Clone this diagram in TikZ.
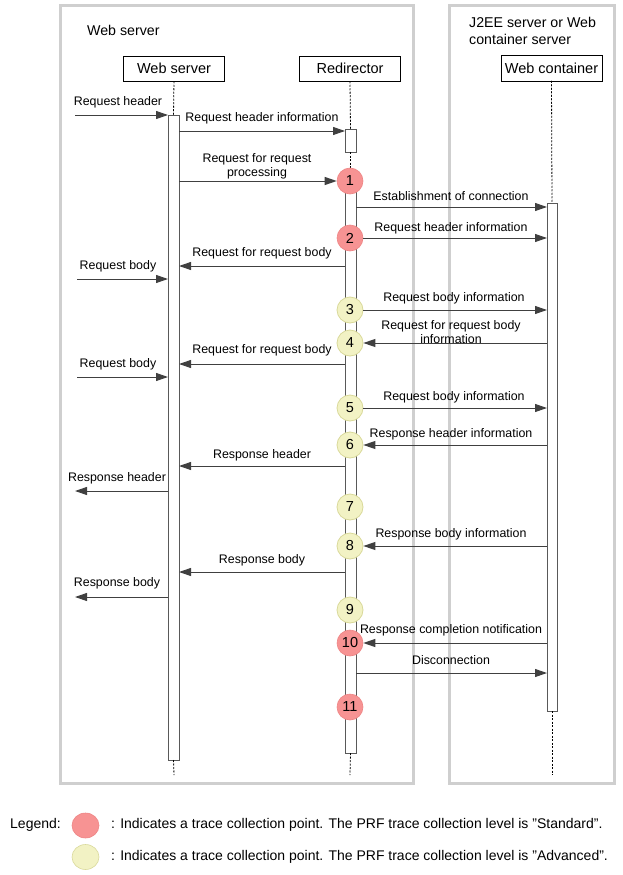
\documentclass[tikz,border=0pt]{standalone}
\usepackage{fontspec}
\setmainfont{Liberation Sans}
\usetikzlibrary{arrows.meta,shapes.geometric}
\definecolor{stdfill}{HTML}{F79393}
\definecolor{stdline}{HTML}{EE8585}
\definecolor{advfill}{HTML}{F2F2C4}
\definecolor{advline}{HTML}{D9D99A}
\definecolor{framegray}{HTML}{CFCFCF}
\begin{document}
\begin{tikzpicture}[x=1pt,y=-1pt,
  frame/.style={draw=framegray,line width=3pt},
  head/.style={draw,fill=white,minimum width=101pt,minimum height=25.5pt,inner sep=0pt,outer sep=0pt,font=\fontsize{14.5}{16}\selectfont},
  actbar/.style={draw=black!65,fill=white,line width=0.8pt,inner sep=0pt,outer sep=0pt,minimum width=11pt,anchor=north},
  life/.style={draw=black,line width=0.8pt,dash pattern=on 2pt off 1.5pt},
  msg/.style={draw=black!75,line width=1pt,-{Triangle[length=12pt,width=8pt]}},
  lbl/.style={font=\fontsize{12.4}{14}\selectfont,inner sep=0pt,align=center},
  stdpt/.style={circle,fill=stdfill,draw=stdline,line width=0.6pt,minimum size=26pt,inner sep=0pt,font=\fontsize{14.5}{16}\selectfont},
  advpt/.style={circle,fill=advfill,draw=advline,line width=0.8pt,minimum size=26pt,inner sep=0pt,font=\fontsize{14.5}{16}\selectfont},
  title/.style={font=\fontsize{14.2}{16.5}\selectfont,inner sep=0pt,align=left},
  legtxt/.style={font=\fontsize{14}{16}\selectfont,anchor=west,inner sep=0pt},
  legmark/.style={ellipse,minimum width=27pt,minimum height=25pt,inner sep=0pt,line width=0.6pt}
]
\useasboundingbox (0,0) rectangle (623,875);
% frames
\draw[frame] (60,6) rectangle (413,783);
\draw[frame] (449,6) rectangle (614,783);
\node[title,anchor=west] (t1) at (87,30.5) {Web server};
\node[title,anchor=north west] (t2) at (469,17.5) {J2EE server or Web\\container server};
% heads
\node[head] (ws) at (174,68.5) {Web server};
\node[head] (rd) at (350,68.5) {Redirector};
\node[head] (wc) at (551.5,68) {Web container};
% end coordinates of lifelines
\coordinate (wsend) at (174,775);
\coordinate (rdend) at (350,775);
\coordinate (wcend) at (552,775);
% activation bars
\node[actbar,minimum height=645pt] (wsbar) at (173.5,115) {};
\node[actbar,minimum height=23pt] (rdbar1) at (350.5,129) {};
\node[actbar,minimum height=581pt] (rdbar2) at (350.5,172) {};
\node[actbar,minimum height=508pt,minimum width=10pt] (wcbar) at (552,203) {};
% lifelines
\draw[life] (ws.south) -- (wsbar.north);
\draw[life] (wsbar.south) -- (wsend);
\draw[life] (rd.south) -- (rdbar1.north);
\draw[life] (rdbar1.south) -- (rdbar2.north);
\draw[life] (rdbar2.south) -- (rdend);
\draw[life] (wc.south) -- (wcbar.north);
\draw[life] (wcbar.south) -- (wcend);
% trace points
\node[stdpt] (c1) at (350,181) {1};
\node[stdpt] (c2) at (350,238) {2};
\node[advpt] (c3) at (350,310) {3};
\node[advpt] (c4) at (350,343) {4};
\node[advpt] (c5) at (350,408) {5};
\node[advpt] (c6) at (350,445) {6};
\node[advpt] (c7) at (350,507) {7};
\node[advpt] (c8) at (350,546) {8};
\node[advpt] (c9) at (350,610) {9};
\node[stdpt] (c10) at (350,643) {10};
\node[stdpt] (c11) at (350,707) {11};
% external coordinates
\coordinate (in1) at (75,115);
\coordinate (in2) at (77,279);
\coordinate (in3) at (77,377);
\coordinate (out1) at (75,491);
\coordinate (out2) at (75,597);
% messages
\draw[msg] (in1) -- (in1 -| wsbar.west);
\node[lbl] (l1) at (118,102.5) {Request header};
\draw[msg] (wsbar.east |- 0,131) -- (rdbar1.west |- 0,131);
\node[lbl] (l2) at (262,118.5) {Request header information};
\draw[msg] (wsbar.east |- c1) -- (c1.west);
\node[lbl] (l3) at (257,166) {Request for request\\processing};
\draw[msg] (rdbar2.east |- 0,207) -- (wcbar.west |- 0,207);
\node[lbl] (l4) at (451,196.5) {Establishment of connection};
\draw[msg] (c2.east) -- (c2 -| wcbar.west);
\node[lbl] (l5) at (451,228.5) {Request header information};
\draw[msg] (rdbar2.west |- 0,266) -- (wsbar.east |- 0,266);
\node[lbl] (l6) at (262,253.5) {Request for request body};
\draw[msg] (in2) -- (in2 -| wsbar.west);
\node[lbl] (l7) at (118,266.5) {Request body};
\draw[msg] (c3.east) -- (c3 -| wcbar.west);
\node[lbl] (l8) at (454,298.5) {Request body information};
\draw[msg] (c4 -| wcbar.west) -- (c4.east);
\node[lbl] (l9) at (451,332.5) {Request for request body\\information};
\draw[msg] (rdbar2.west |- 0,364) -- (wsbar.east |- 0,364);
\node[lbl] (l10) at (262,350.5) {Request for request body};
\draw[msg] (in3) -- (in3 -| wsbar.west);
\node[lbl] (l11) at (118,364.5) {Request body};
\draw[msg] (c5.east) -- (c5 -| wcbar.west);
\node[lbl] (l12) at (454,397.5) {Request body information};
\draw[msg] (c6 -| wcbar.west) -- (c6.east);
\node[lbl] (l13) at (451,434.5) {Response header information};
\draw[msg] (rdbar2.west |- 0,466) -- (wsbar.east |- 0,466);
\node[lbl] (l14) at (262,455.5) {Response header};
\draw[msg] (wsbar.west |- out1) -- (out1);
\node[lbl] (l15) at (117,478.5) {Response header};
\draw[msg] (c8 -| wcbar.west) -- (c8.east);
\node[lbl] (l16) at (451,534.5) {Response body information};
\draw[msg] (rdbar2.west |- 0,572) -- (wsbar.east |- 0,572);
\node[lbl] (l17) at (262,560.5) {Response body};
\draw[msg] (wsbar.west |- out2) -- (out2);
\node[lbl] (l18) at (117,583.5) {Response body};
\draw[msg] (c10 -| wcbar.west) -- (c10.east);
\node[lbl] (l19) at (451,630.5) {Response completion notification};
\draw[msg] (rdbar2.east |- 0,673) -- (wcbar.west |- 0,673);
\node[lbl] (l20) at (451,660.5) {Disconnection};
% legend
\node[legtxt] (lg) at (10,825) {Legend:};
\node[legmark,fill=stdfill,draw=stdline] (e1) at (85.5,825.5) {};
\node[legmark,fill=advfill,draw=advline] (e2) at (85.5,857) {};
\node[legtxt] (lt1) at (111,825) {: Indicates a trace collection point. The PRF trace collection level is "Standard".};
\node[legtxt] (lt2) at (111,857) {: Indicates a trace collection point. The PRF trace collection level is "Advanced".};
\end{tikzpicture}
\end{document}
